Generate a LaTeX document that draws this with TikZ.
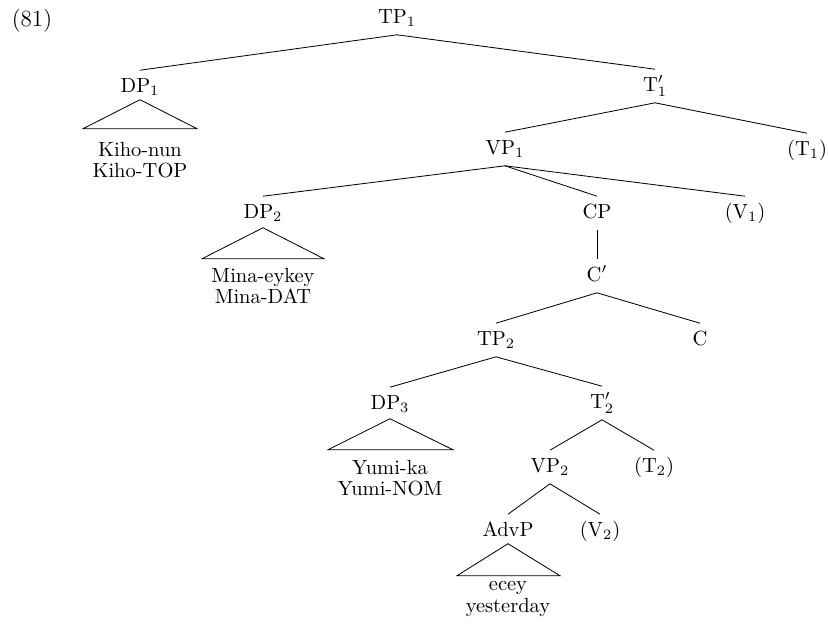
\documentclass[tikz,border=0pt]{standalone}
\begin{document}
\begin{tikzpicture}[x=0.488pt,y=-0.488pt,
  cat/.style={inner sep=0pt,minimum height=16pt,text height=7pt,text depth=2pt},
  leaf/.style={inner sep=0pt,align=center}]
\useasboundingbox (0,0) rectangle (828,627);
\node[font=\fontsize{11.3pt}{13pt}\selectfont] (numlabel) at (32,21) {(81)};
% categories
\node[cat] (tpone) at (397,18) {TP$_1$};
\node[cat] (dpone) at (140,87) {DP$_1$};
\node[cat] (tbarone) at (655,86) {T$'_1$};
\node[cat] (vpone) at (505,149) {VP$_1$};
\node[cat] (tone) at (807,150) {(T$_1$)};
\node[cat] (dptwo) at (263,213) {DP$_2$};
\node[cat] (cp) at (597,213) {CP};
\node[cat] (vone) at (745,213) {(V$_1$)};
\node[cat] (cbar) at (597,276) {C$'$};
\node[cat] (tptwo) at (496,340) {TP$_2$};
\node[cat] (c) at (700,340) {C};
\node[cat] (dpthree) at (390,404) {DP$_3$};
\node[cat] (tbartwo) at (602,403) {T$'_2$};
\node[cat] (vptwo) at (550,467) {VP$_2$};
\node[cat] (ttwo) at (654,467) {(T$_2$)};
\node[cat] (advp) at (508,531) {AdvP};
\node[cat] (vtwo) at (600,531) {(V$_2$)};
% leaves
\node[leaf] (kiho) at (140,160) {Kiho-nun\\[-1.5pt]Kiho-TOP};
\node[leaf] (mina) at (263,286) {Mina-eykey\\[-1.5pt]Mina-DAT};
\node[leaf] (yumi) at (390,478) {Yumi-ka\\[-1.5pt]Yumi-NOM};
\node[leaf] (ecey) at (508,599) {ecey\\[-1.5pt]yesterday};
% branches
\draw (tpone.south) -- (dpone.north);
\draw (tpone.south) -- (tbarone.north);
\draw (tbarone.south) -- (vpone.north);
\draw (tbarone.south) -- (tone.north);
\draw (vpone.south) -- (dptwo.north);
\draw (vpone.south) -- (cp.north);
\draw (vpone.south) -- (vone.north);
\draw (cp.south) -- (cbar.north);
\draw (cbar.south) -- (tptwo.north);
\draw (cbar.south) -- (c.north);
\draw (tptwo.south) -- (dpthree.north);
\draw (tptwo.south) -- (tbartwo.north);
\draw (tbartwo.south) -- (vptwo.north);
\draw (tbartwo.south) -- (ttwo.north);
\draw (vptwo.south) -- (advp.north);
\draw (vptwo.south) -- (vtwo.north);
% roofs
\draw ([yshift=2pt]dpone.south) -- ++(-57,29) -- ++(114,0) -- cycle;
\draw ([yshift=1pt]dptwo.south) -- ++(-61,31) -- ++(122,0) -- cycle;
\draw ([yshift=1pt]dpthree.south) -- ++(-62,31) -- ++(125,0) -- cycle;
\draw ([yshift=2pt]advp.south) -- ++(-51,32) -- ++(103,0) -- cycle;
\end{tikzpicture}
\end{document}
